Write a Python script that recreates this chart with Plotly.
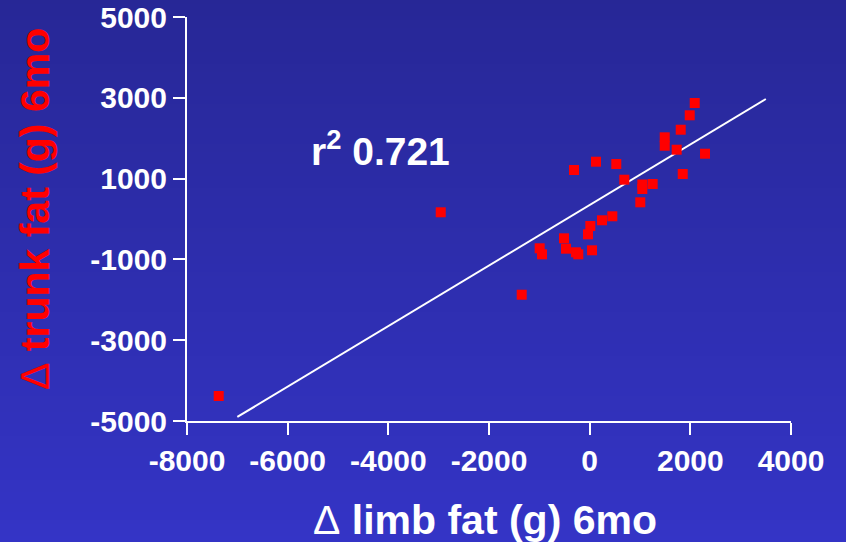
import plotly.graph_objects as go

# ---- data ----
limb_fat = [2087, 1988, 1809, 1491, 1491, 1729, 2292, 1849, 126, 529, -311, 688,
            1046, 1046, 1252, 1006, 450, 245, 13, -33, -510, -993, -947, -470,
            -271, -226, 47, -1350, -2959, -7370]
trunk_fat = [2871, 2567, 2210, 2022, 1814, 1715, 1616, 1114, 1418, 1361, 1213, 973,
             854, 743, 866, 413, 67, -32, -173, -379, -478, -725, -874, -735,
             -824, -874, -775, -1874, 166, -4381]
fit_x = [-7000, 3500]
fit_y = [-4900, 2970]
x_ticks = [-8000, -6000, -4000, -2000, 0, 2000, 4000]
x_tick_labels = ["-8000", "-6000", "-4000", "-2000", "0", "2000", "4000"]
y_ticks = [-5000, -3000, -1000, 1000, 3000, 5000]
y_tick_labels = ["-5000", "-3000", "-1000", "1000", "3000", "5000"]
r2_text = "r<sup>2</sup> 0.721"
x_title = "<span style='font-weight:normal'>Δ</span> limb fat (g) 6mo"
y_title = "<span style='font-weight:normal'>Δ</span> trunk fat (g) 6mo"

W, H = 846, 542
L, R, T, B = 187, 55, 17, 121
pw, ph = W - L - R, H - T - B

fig = go.Figure()
fig.add_trace(go.Scatter(x=fit_x, y=fit_y, mode="lines",
                         line=dict(color="white", width=2), hoverinfo="skip"))
fig.add_trace(go.Scatter(x=limb_fat, y=trunk_fat, mode="markers",
                         marker=dict(symbol="square", size=10, color="#ff0000",
                                     line=dict(width=0))))

# vertical background gradient built from thin bands
top = (39, 39, 150)
bot = (52, 52, 198)
band = 4
shapes = []
for y0 in range(0, H, band):
    y1 = min(H, y0 + band)
    t = (y0 + y1) / 2 / H
    c = tuple(round(top[i] + (bot[i] - top[i]) * t) for i in range(3))
    shapes.append(dict(type="rect", xref="paper", yref="paper", layer="below",
                       x0=(0 - L) / pw, x1=(W - L) / pw,
                       y0=(H - B - y1) / ph, y1=(H - B - y0) / ph,
                       fillcolor="rgb(%d,%d,%d)" % c, line=dict(width=0)))

tickfont = dict(family="Liberation Sans", size=30, color="white", weight="bold")
axis_common = dict(showline=True, linecolor="white", linewidth=2, ticks="outside",
                   ticklen=12, tickwidth=2, tickcolor="white", showgrid=False,
                   zeroline=False, tickfont=tickfont, automargin=False)

fig.update_layout(
    width=W, height=H, margin=dict(l=L, r=R, t=T, b=B, autoexpand=False),
    paper_bgcolor="rgb(45,45,174)", plot_bgcolor="rgba(0,0,0,0)",
    showlegend=False, shapes=shapes,
    xaxis=dict(range=[-8000, 4000], tickvals=x_ticks, ticktext=x_tick_labels,
               **axis_common),
    yaxis=dict(range=[-5000, 5000], tickvals=y_ticks, ticktext=y_tick_labels,
               **axis_common),
    annotations=[
        dict(text=r2_text, x=-4165, y=1757, xref="x", yref="y", showarrow=False,
             font=dict(family="Liberation Sans", size=39, color="white", weight="bold")),
        dict(text=x_title, x=(485 - L) / pw, y=(H - B - 520) / ph, xref="paper",
             yref="paper", showarrow=False, xanchor="center", yanchor="middle",
             font=dict(family="Liberation Sans", size=41, color="white", weight="bold")),
        dict(text=y_title, x=(35 - L) / pw, y=(H - B - 209) / ph, xref="paper",
             yref="paper", showarrow=False, textangle=-90, xanchor="center",
             yanchor="middle",
             font=dict(family="Liberation Sans", size=41, color="#ff0000", weight="bold")),
    ],
)

fig.write_html("out.html", config={"displayModeBar": False},
               post_script="document.body.style.margin='0';document.body.style.overflow='hidden';")
